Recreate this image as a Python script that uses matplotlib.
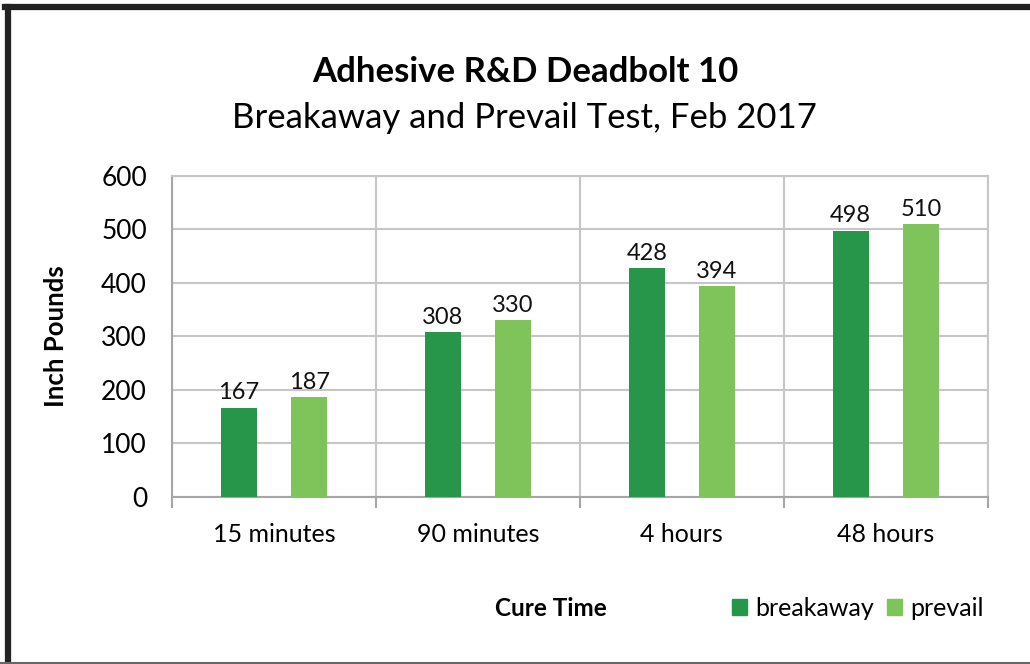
import matplotlib.pyplot as plt
import numpy as np
from matplotlib.patches import Rectangle
from matplotlib.lines import Line2D

plt.rcParams['font.family'] = ['Lato', 'DejaVu Sans']

# dados
categorias = ["15 minutes", "90 minutes", "4 hours", "48 hours"]
breakaway = [167, 308, 428, 498]
prevail = [187, 330, 394, 510]
yticks = [0, 100, 200, 300, 400, 500, 600]

cor_break = "#27964A"
cor_prev = "#7FC35B"
cor_grade = "#C6C6C6"

fig = plt.figure(figsize=(10.30, 6.64), dpi=100)
ax = fig.add_axes([0.167, 0.2515, 0.792, 0.4835])

x = np.arange(len(categorias))
larg = 0.175
desl = 0.172

b1 = ax.bar(x - desl, breakaway, larg, color=cor_break, label="breakaway", zorder=3)
b2 = ax.bar(x + desl, prevail, larg, color=cor_prev, label="prevail", zorder=3)

for barras in (b1, b2):
    for b in barras:
        ax.text(b.get_x() + b.get_width() / 2, b.get_height() + 8, f"{int(b.get_height())}",
                ha="center", va="bottom", fontsize=17, color="#111111")

ax.set_xlim(-0.5, len(categorias) - 0.5)
ax.set_ylim(0, 600)
ax.set_yticks(yticks)
ax.set_yticklabels([str(v) for v in yticks], fontsize=19)
ax.tick_params(axis="y", length=0, pad=18)

# grade vertical nas divisões das categorias
ax.set_xticks(np.arange(-0.5, len(categorias), 1.0))
ax.set_xticklabels([])
ax.set_xticks(x, minor=True)
ax.set_xticklabels(categorias, minor=True, fontsize=18)
ax.tick_params(axis="x", which="major", length=8, width=1.5, color="#A6A6A6")
ax.tick_params(axis="x", which="minor", length=0, pad=19)

ax.grid(True, which="major", color=cor_grade, linewidth=1.5, zorder=0)
for s in ax.spines.values():
    s.set_color(cor_grade)
    s.set_linewidth(1.5)
ax.spines["bottom"].set_color("#A6A6A6")
ax.spines["left"].set_color("#A6A6A6")

ax.set_ylabel("Inch Pounds", fontsize=18.5, fontweight="bold", labelpad=24)

fig.text(0.51, 0.891, "Adhesive R&D Deadbolt 10", ha="center", va="center",
         fontsize=25, fontweight="bold")
fig.text(0.509, 0.822, "Breakaway and Prevail Test, Feb 2017", ha="center", va="center",
         fontsize=25)
fig.text(0.535, 0.084, "Cure Time", ha="center", va="center", fontsize=17.5, fontweight="bold")

# legenda
handles = [Rectangle((0, 0), 1, 1, color=cor_break), Rectangle((0, 0), 1, 1, color=cor_prev)]
fig.legend(handles, ["breakaway", "prevail"], loc="center", bbox_to_anchor=(0.833, 0.084),
           ncol=2, frameon=False, fontsize=18, handlelength=0.6, handleheight=0.6,
           handletextpad=0.3, columnspacing=0.55)

# moldura
fig.add_artist(Line2D([0.0073, 0.0073], [0.0, 0.9895], color="#222222", linewidth=4.5,
                      transform=fig.transFigure))
fig.add_artist(Line2D([0.005, 1.0], [0.9895, 0.9895], color="#222222", linewidth=4.5,
                      transform=fig.transFigure))
fig.add_artist(Line2D([0.0, 1.0], [0.002, 0.002], color="#666666", linewidth=1.5,
                      transform=fig.transFigure))

fig.savefig("out.png", dpi=100)
